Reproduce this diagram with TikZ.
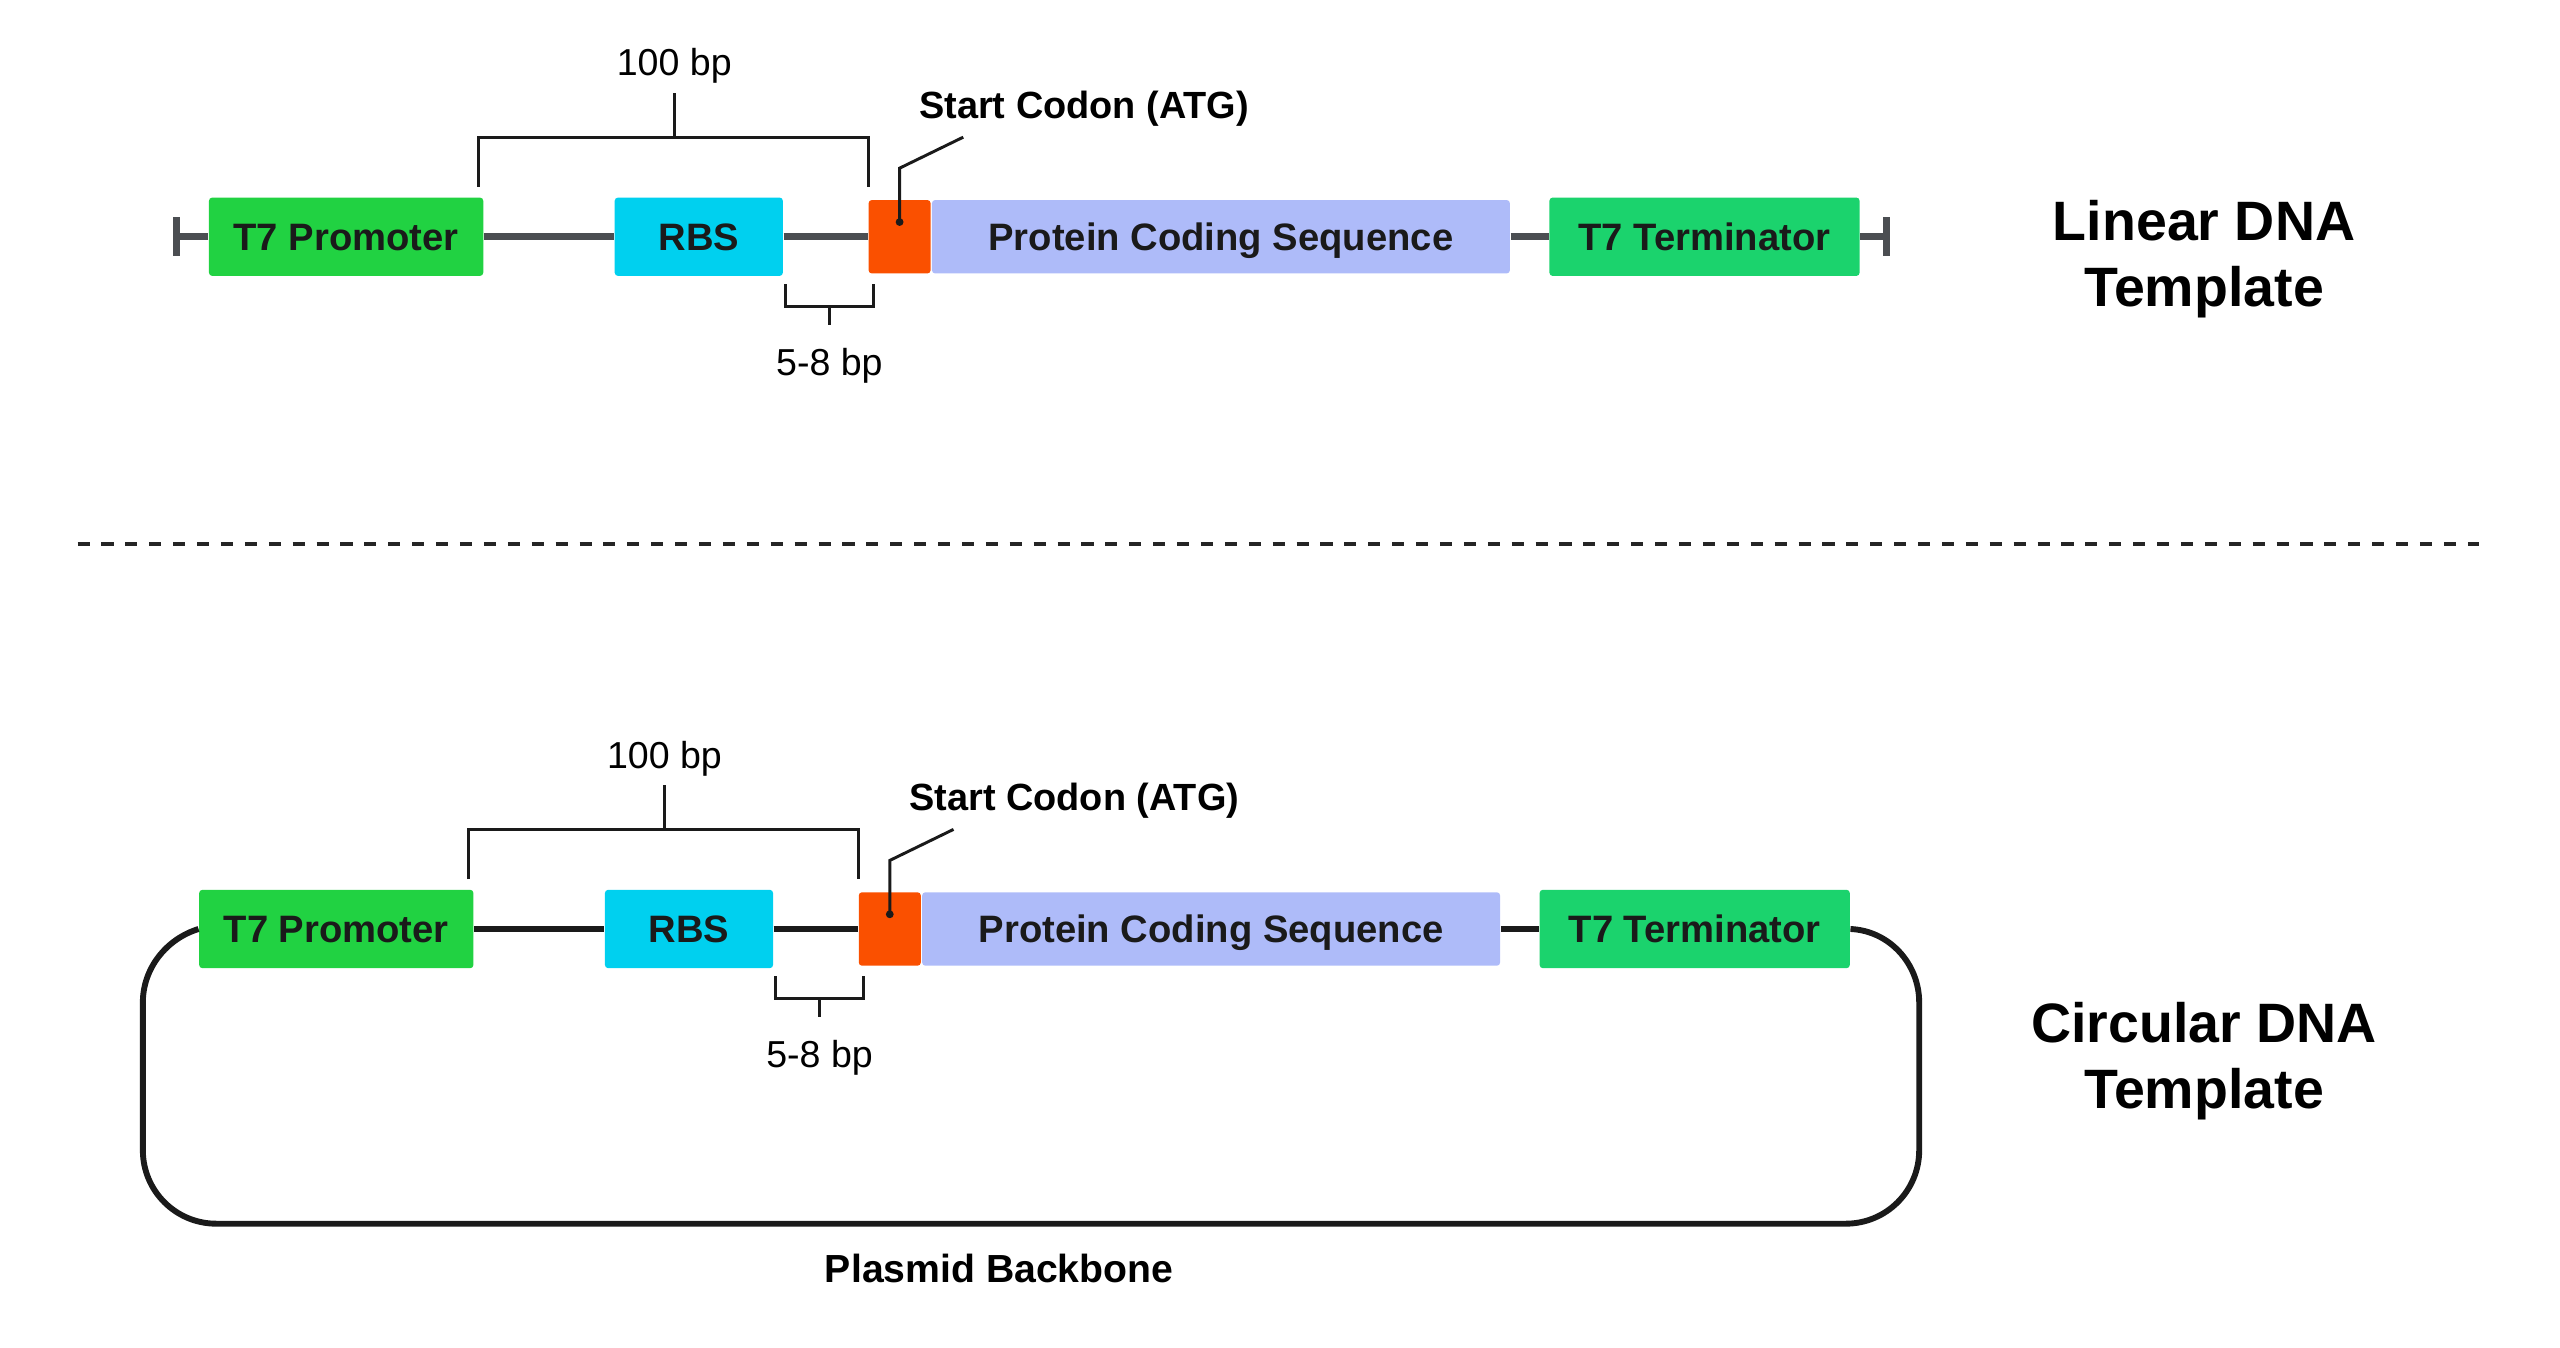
\documentclass[tikz,border=0pt]{standalone}
\usepackage{fontspec}
\setmainfont{Liberation Sans}

\definecolor{promgreen}{HTML}{21D242}
\definecolor{termgreen}{HTML}{1BD36D}
\definecolor{rbscyan}{HTML}{00D0EF}
\definecolor{atgorange}{HTML}{FA5000}
\definecolor{cdsblue}{HTML}{AEBBF9}
\definecolor{strandgray}{HTML}{4B4E52}
\definecolor{inkblack}{HTML}{1A1A1A}

\begin{document}
\begin{tikzpicture}[x=0.5pt, y=-0.5pt,
  part/.style={rectangle, rounded corners=1pt, inner sep=0pt, minimum height=24pt,
    text height=8.4pt, text depth=0pt, text=inkblack,
    font=\fontsize{11.7}{14}\selectfont\bfseries},
  promoter/.style={part, fill=promgreen, minimum width=84pt},
  rbs/.style={part, fill=rbscyan, minimum width=51.5pt},
  atg/.style={part, fill=atgorange, minimum width=19pt, minimum height=22.5pt},
  cds/.style={part, fill=cdsblue, minimum width=177pt, minimum height=22.5pt},
  terminator/.style={part, fill=termgreen, minimum width=95pt},
  strand/.style={line width=2.1pt, draw=strandgray},
  endbar/.style={line width=2pt, draw=strandgray},
  strandc/.style={line width=1.7pt, draw=inkblack},
  backbone/.style={line width=1.8pt, draw=inkblack},
  bracket/.style={line width=0.9pt, draw=inkblack},
  leader/.style={line width=0.9pt, draw=inkblack},
  sizelabel/.style={inner sep=0pt, font=\fontsize{11.5}{14}\selectfont},
  codonlabel/.style={inner sep=0pt, font=\fontsize{11.6}{14}\selectfont\bfseries},
  title/.style={inner sep=0pt, align=center, font=\fontsize{17}{20.25}\selectfont\bfseries},
  divider/.style={line width=1.3pt, draw=inkblack!95, dash pattern=on 3.7pt off 3.62pt}]

  \useasboundingbox (0,0) rectangle (1568,825.6);

  % --- PART 1: LINEAR TEMPLATE ---

  % A. The parts along the strand
  \node[promoter] (LProm) at (212,145) {T7 Promoter};
  \node[rbs] (LRBS) at (428,145) {RBS};
  \node[atg] (LATG) at (551,145) {};
  \node[cds, anchor=west] (LCDS) at (LATG.east) {Protein Coding Sequence};
  \node[terminator] (LTerm) at (1044,145) {T7 Terminator};

  % B. The strand with its two blunt ends
  \coordinate (LEndL) at (108,145);
  \coordinate (LEndR) at (1155.5,145);
  \draw[strand] (LEndL) -- (LProm.west) (LProm.east) -- (LRBS.west)
    (LRBS.east) -- (LATG.west) (LCDS.east) -- (LTerm.west) (LTerm.east) -- (LEndR);
  \draw[endbar] ([yshift=6pt]LEndL) -- ([yshift=-6pt]LEndL);
  \draw[endbar] ([yshift=6pt]LEndR) -- ([yshift=-6pt]LEndR);

  % C. Distance marks and the start codon
  \draw[bracket] (293,114.5) |- (532,84) -- (532,114.5);
  \draw[bracket] (413,84) -- (413,57);
  \node[sizelabel, anchor=base] (L100) at (413,46.5) {100 bp};

  \draw[bracket] (481,174) |- (535,187.5) -- (535,174);
  \draw[bracket] (508,187.5) -- (508,199);
  \node[sizelabel, anchor=base] (L58) at (508,230) {5-8 bp};

  \coordinate (LATGdot) at (551,136);
  \draw[leader] (LATGdot) -- (551,103) -- (590,84);
  \fill[inkblack] (LATGdot) circle[radius=2.4];
  \node[codonlabel, anchor=base] (LStart) at (664,72.4) {Start Codon (ATG)};

  \node[title] (LTitle) at (1350,158.7) {Linear DNA\\Template};

  % --- DIVIDER ---
  \draw[divider] (47.5,333.2) -- (1518.5,333.2);

  % --- PART 2: CIRCULAR TEMPLATE ---

  % A. The parts along the strand
  \node[promoter] (CProm) at (206,569) {T7 Promoter};
  \node[rbs] (CRBS) at (422,569) {RBS};
  \node[atg] (CATG) at (545,569) {};
  \node[cds, anchor=west] (CCDS) at (CATG.east) {Protein Coding Sequence};
  \node[terminator] (CTerm) at (1038,569) {T7 Terminator};

  % B. The strand, closed by the plasmid backbone
  \draw[strandc] (CProm.east) -- (CRBS.west) (CRBS.east) -- (CATG.west)
    (CCDS.east) -- (CTerm.west);
  \draw[backbone] (CTerm.east) .. controls (1157,570) and (1175.5,590) .. (1175.5,614)
    -- (1175.5,704.5) .. controls (1175.5,729.4) and (1155.4,749.5) .. (1130.5,749.5)
    -- (132.5,749.5) .. controls (107.6,749.5) and (87.5,729.4) .. (87.5,704.5)
    -- (87.5,614) .. controls (87.5,593) and (102,575) .. (CProm.west);
  \node[codonlabel, font=\fontsize{12}{14}\selectfont\bfseries, anchor=base] (CBack) at (612,785.8) {Plasmid Backbone};

  % C. Distance marks and the start codon
  \draw[bracket] (287,538.5) |- (526,508) -- (526,538.5);
  \draw[bracket] (407,508) -- (407,481);
  \node[sizelabel, anchor=base] (C100) at (407,470.5) {100 bp};

  \draw[bracket] (475,598) |- (529,611.5) -- (529,598);
  \draw[bracket] (502,611.5) -- (502,623);
  \node[sizelabel, anchor=base] (C58) at (502,654) {5-8 bp};

  \coordinate (CATGdot) at (545,560);
  \draw[leader] (CATGdot) -- (545,527) -- (584,508);
  \fill[inkblack] (CATGdot) circle[radius=2.4];
  \node[codonlabel, anchor=base] (CStart) at (658,496.4) {Start Codon (ATG)};

  \node[title] (CTitle) at (1350,649.9) {Circular DNA\\Template};
\end{tikzpicture}
\end{document}
